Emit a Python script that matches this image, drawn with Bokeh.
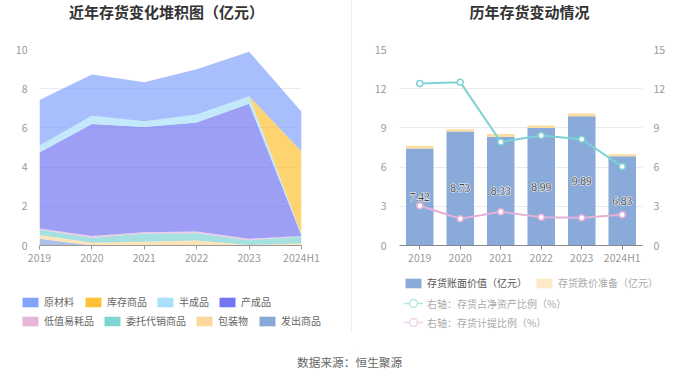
from bokeh.plotting import figure
from bokeh.models import (ColumnDataSource, Legend, LegendItem, Label, Div,
                          LinearAxis, Range1d, FactorRange, FixedTicker)
from bokeh.layouts import row, column
from bokeh.embed import file_html
from bokeh.resources import INLINE

FONT = "Noto Sans CJK SC"

# ---------------- data ----------------
periods = ["2019", "2020", "2021", "2022", "2023", "2024H1"]

# left: stacked inventory composition (亿元), listed bottom -> top
fachu_goods = [0.34, 0.00, 0.00, 0.00, 0.00, 0.00]       # 发出商品
packaging = [0.20, 0.14, 0.19, 0.25, 0.03, 0.10]         # 包装物
consignment = [0.26, 0.25, 0.42, 0.38, 0.24, 0.36]       # 委托代销商品
low_value = [0.07, 0.10, 0.07, 0.08, 0.07, 0.03]         # 低值易耗品
finished = [3.87, 5.71, 5.36, 5.57, 6.89, 0.02]          # 产成品
semi_finished = [0.36, 0.42, 0.30, 0.40, 0.39, 0.07]     # 半成品
stock_goods = [0.00, 0.00, 0.00, 0.00, 0.00, 4.22]       # 库存商品
raw_material = [2.32, 2.11, 1.99, 2.31, 2.27, 2.03]      # 原材料

stack_keys = ["fachu", "pack", "consign", "lowval", "finished", "semi", "stock", "raw"]
stack_names = ["发出商品", "包装物", "委托代销商品", "低值易耗品", "产成品", "半成品", "库存商品", "原材料"]
stack_values = [fachu_goods, packaging, consignment, low_value, finished, semi_finished, stock_goods, raw_material]
stack_colors = ["#89a8d8", "#fed89a", "#7fd4d4", "#e6b7da", "#7476f1", "#a9e1fa", "#fdc235", "#84a3fb"]
left_ticks = [0, 2, 4, 6, 8, 10]

# right: bars (亿元) and ratio lines (%)
book_value = [7.42, 8.73, 8.33, 8.99, 9.89, 6.83]        # 存货账面价值
impairment = [0.20, 0.17, 0.21, 0.19, 0.21, 0.15]        # 存货跌价准备
ratio_net_assets = [12.4, 12.5, 7.93, 8.41, 8.13, 6.04]  # 存货占净资产比例
provision_ratio = [3.04, 2.05, 2.58, 2.17, 2.12, 2.35]   # 存货计提比例
right_ticks = [0, 3, 6, 9, 12, 15]

GRID = "#e8ebf3"
TICK_LABEL = "#999999"
HEADER_H, MAIN_H, LEG_H = 41, 229, 80
LEFT_W, RIGHT_W = 351, 348


def blank_fig(w, h):
    f = figure(width=w, height=h, x_range=Range1d(0, w), y_range=Range1d(0, h),
               output_backend="svg", toolbar_location=None,
               x_axis_location=None, y_axis_location=None,
               min_border_left=0, min_border_right=0, min_border_top=0, min_border_bottom=0)
    f.grid.grid_line_color = None
    f.outline_line_color = None
    return f


def header(w, text, cx):
    f = blank_fig(w, HEADER_H)
    f.add_layout(Label(x=cx, y=HEADER_H - 11, text=text, text_align="center", text_baseline="middle",
                       text_font=FONT, text_font_size="15px", text_font_style="bold",
                       text_color="#333333"))
    return f


def add_legend(f, renderers, label, loc, color="#666666", gh=12):
    lg = Legend(items=[LegendItem(label=label, renderers=renderers)], location=loc,
                orientation="horizontal", padding=0, margin=0, spacing=0,
                glyph_width=20, glyph_height=gh, label_height=gh, label_standoff=4,
                label_text_font=FONT, label_text_font_size="10px", label_text_color=color,
                border_line_color=None, background_fill_alpha=0)
    f.add_layout(lg)


# zero-size helper data so legend swatches have something to draw from (invisible)
swatch_src = dict(x=[0, 1], y1=[0, 0], y2=[0, 0])

# ---------------- left panel ----------------
xs = list(range(len(periods)))
src_l = ColumnDataSource(dict(x=xs, **{k: v for k, v in zip(stack_keys, stack_values)}))

p1 = figure(width=LEFT_W, height=MAIN_H, x_range=Range1d(0, len(periods) - 1), y_range=Range1d(0, 10),
            output_backend="svg", toolbar_location=None,
            min_border_left=39, min_border_right=50, min_border_top=8, min_border_bottom=25)
p1.outline_line_color = None
p1.varea_stack(stackers=stack_keys, x="x", source=src_l, fill_color=stack_colors, fill_alpha=0.7)

p1.xgrid.grid_line_color = None
p1.ygrid.grid_line_color = GRID
p1.ygrid.ticker = FixedTicker(ticks=left_ticks)
p1.yaxis.ticker = FixedTicker(ticks=left_ticks)
p1.yaxis.axis_line_color = None
p1.yaxis.major_tick_line_color = None
p1.yaxis.minor_tick_line_color = None
p1.yaxis.major_label_standoff = 6
p1.xaxis.ticker = FixedTicker(ticks=xs)
p1.xaxis.major_label_overrides = {i: s for i, s in zip(xs, periods)}
p1.xaxis.axis_line_color = "#9a9a9a"
p1.xaxis.major_tick_line_color = "#9a9a9a"
p1.xaxis.major_tick_out = 4
p1.xaxis.major_tick_in = 0
p1.xaxis.minor_tick_line_color = None
p1.xaxis.major_label_standoff = 0
for ax in (p1.xaxis, p1.yaxis):
    ax.major_label_text_font = FONT
    ax.major_label_text_font_size = "10.5px"
    ax.major_label_text_color = TICK_LABEL

h1 = header(LEFT_W, "近年存货变化堆积图（亿元）", 166)

l1 = blank_fig(LEFT_W, LEG_H)
legend_pos_left = {
    "原材料": (20, 41), "库存商品": (83, 41), "半成品": (155, 41), "产成品": (217, 41),
    "低值易耗品": (20, 22), "委托代销商品": (102, 22), "包装物": (194, 22), "发出商品": (257, 22),
}
for name, color in zip(stack_names, stack_colors):
    dummy = l1.varea(x="x", y1="y1", y2="y2", source=ColumnDataSource(swatch_src),
                     fill_color=color, fill_alpha=1.0)
    add_legend(l1, [dummy], name, legend_pos_left[name])

# ---------------- right panel ----------------
src_r = ColumnDataSource(dict(
    period=periods, book=book_value, imp=impairment,
    mid=[v / 2 for v in book_value], lab=[f"{v:.2f}" for v in book_value],
    r1=ratio_net_assets, r2=provision_ratio))

p2 = figure(width=RIGHT_W, height=MAIN_H, x_range=FactorRange(*periods), y_range=Range1d(0, 15),
            output_backend="svg", toolbar_location=None,
            min_border_left=47, min_border_right=58, min_border_top=8, min_border_bottom=25)
p2.outline_line_color = None
p2.extra_y_ranges = {"pct": Range1d(0, 15)}

BAR = "#8aaad9"
RES = "#fddca0"
TEAL = "#7dd3d3"
PINK = "#e3b1d9"
p2.vbar_stack(["book", "imp"], x="period", width=0.68, source=src_r,
              fill_color=[BAR, RES], line_color=None)
p2.text(x="period", y="mid", text="lab", source=src_r, text_align="center", text_baseline="middle",
        text_font=FONT, text_font_size="11.5px", text_color="white", text_outline_color="white")
p2.text(x="period", y="mid", text="lab", source=src_r, text_align="center", text_baseline="middle",
        text_font=FONT, text_font_size="11.5px", text_color="#444444")
p2.line(x="period", y="r1", source=src_r, y_range_name="pct", line_color=TEAL, line_width=2)
p2.scatter(x="period", y="r1", source=src_r, y_range_name="pct", size=6,
           fill_color="white", line_color=TEAL, line_width=1.5)
p2.line(x="period", y="r2", source=src_r, y_range_name="pct", line_color=PINK, line_width=2)
p2.scatter(x="period", y="r2", source=src_r, y_range_name="pct", size=6,
           fill_color="white", line_color=PINK, line_width=1.5)

raxis = LinearAxis(y_range_name="pct")
p2.add_layout(raxis, "right")

p2.xgrid.grid_line_color = None
p2.ygrid.grid_line_color = GRID
p2.ygrid.ticker = FixedTicker(ticks=right_ticks)
for ax in (p2.yaxis[0], raxis):
    ax.ticker = FixedTicker(ticks=right_ticks)
    ax.axis_line_color = None
    ax.major_tick_line_color = None
    ax.minor_tick_line_color = None
p2.yaxis[0].major_label_standoff = 7
raxis.major_label_standoff = 5
p2.xaxis.axis_line_color = "#8a8a8a"
p2.xaxis.major_tick_line_color = "#8a8a8a"
p2.xaxis.major_tick_out = 4
p2.xaxis.major_tick_in = 0
p2.xaxis.major_label_standoff = 0
for ax in (p2.xaxis[0], p2.yaxis[0], raxis):
    ax.major_label_text_font = FONT
    ax.major_label_text_font_size = "10.5px"
    ax.major_label_text_color = TICK_LABEL

h2 = header(RIGHT_W, "历年存货变动情况", 177)

l2 = blank_fig(RIGHT_W, LEG_H)
d_book = l2.varea(x="x", y1="y1", y2="y2", source=ColumnDataSource(swatch_src), fill_color=BAR)
d_res = l2.varea(x="x", y1="y1", y2="y2", source=ColumnDataSource(swatch_src), fill_color="#fde8c8")
d_l1 = l2.line(x="x", y="y1", source=ColumnDataSource(swatch_src), line_color="#b3e7e7",
               line_width=1.5, line_alpha=0.0)
d_s1 = l2.scatter(x="x", y="y1", source=ColumnDataSource(swatch_src), size=0,
                  fill_color="white", line_color="#b3e7e7", line_width=1.5)
d_l2 = l2.line(x="x", y="y1", source=ColumnDataSource(swatch_src), line_color="#f0d2e9",
               line_width=1.5, line_alpha=0.0)
d_s2 = l2.scatter(x="x", y="y1", source=ColumnDataSource(swatch_src), size=0,
                  fill_color="white", line_color="#f0d2e9", line_width=1.5)
# legend glyphs for the line entries: visible line swatches drawn by separate renderers
d_l1v = l2.line(x="x", y="y1", source=ColumnDataSource(swatch_src), line_color="#b3e7e7", line_width=1.5)
d_l2v = l2.line(x="x", y="y1", source=ColumnDataSource(swatch_src), line_color="#f0d2e9", line_width=1.5)
add_legend(l2, [d_book], "存货账面价值（亿元）", (51, 60), "#555555")
add_legend(l2, [d_res], "存货跌价准备（亿元）", (182, 60), "#aaaaaa")
add_legend(l2, [d_l1v, d_s1], "右轴：存货占净资产比例（%）", (51, 36), "#aaaaaa", gh=22)
add_legend(l2, [d_l2v, d_s2], "右轴：存货计提比例（%）", (51, 17), "#aaaaaa", gh=22)

# ---------------- layout ----------------
def sep(h):
    return Div(text="", width=1, height=h, margin=(0, 0, 0, 0),
               styles={"background-color": "#eeeeee"})


footer = Div(text=('<div style="padding-left:297px;padding-top:4px;font-size:11.7px;'
                   'line-height:16px;color:#666666;font-family:\'Noto Sans CJK SC\';white-space:nowrap;">'
                   '数据来源：恒生聚源</div>'),
             width=700, height=26, margin=(0, 0, 0, 0))

layout = column(
    row(h1, sep(HEADER_H), h2, spacing=0),
    row(p1, sep(MAIN_H), p2, spacing=0),
    row(l1, sep(63), l2, spacing=0),
    footer, spacing=0)
open("out.html", "w").write(file_html(layout, INLINE))
